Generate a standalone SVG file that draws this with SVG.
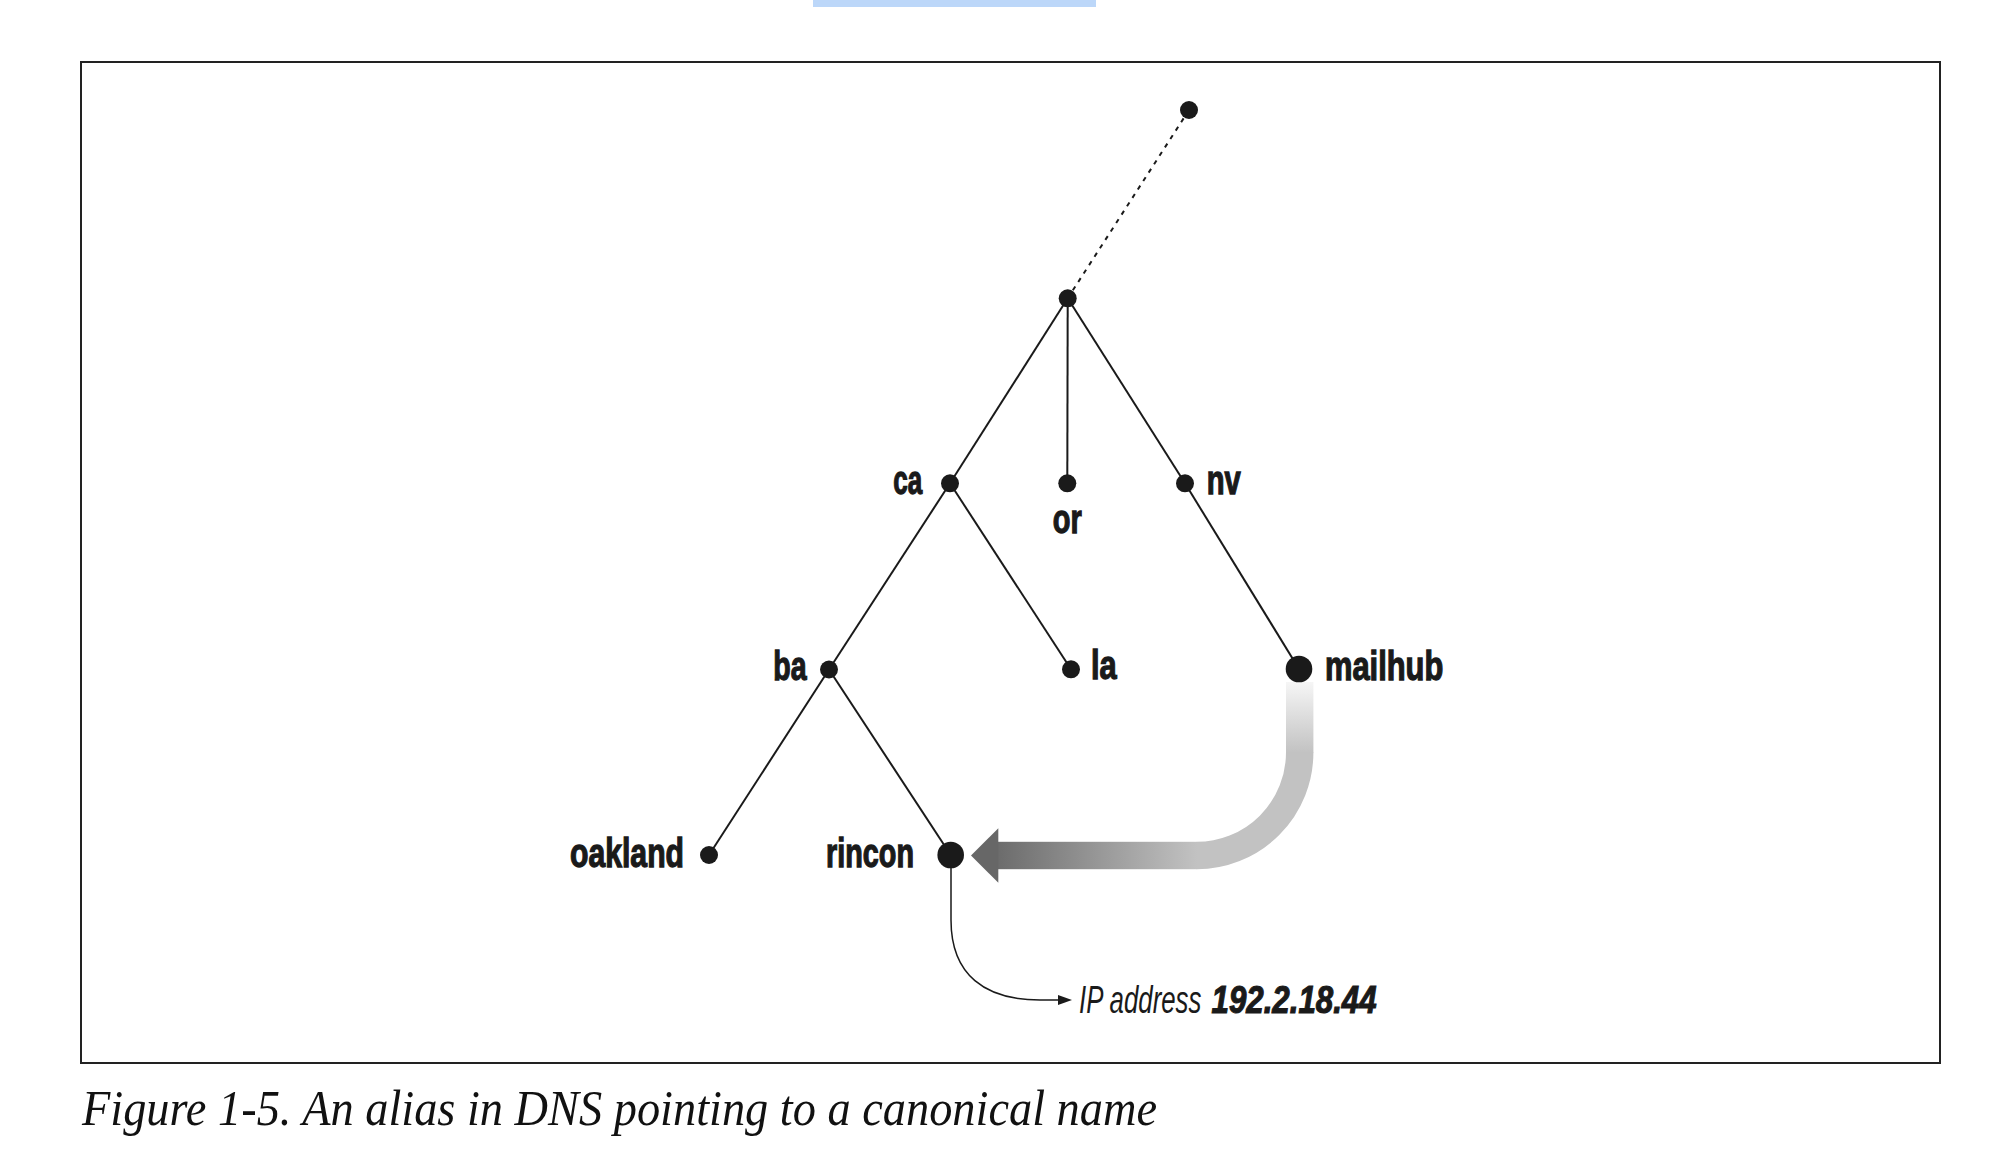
<svg xmlns="http://www.w3.org/2000/svg" width="2016" height="1156" viewBox="0 0 2016 1156">
  <style>
    .edge { stroke: #1a1a1a; stroke-width: 2; fill: none; }
    .dot { fill: #1a1a1a; }
    .lbl { font-family: "Liberation Sans", "DejaVu Sans", sans-serif; font-weight: bold; font-size: 40px; fill: #1a1a1a; stroke: #1a1a1a; stroke-width: 1.3px; }
    .ip { font-family: "Liberation Sans", "DejaVu Sans", sans-serif; font-style: italic; font-size: 38px; fill: #1a1a1a; }
    .ipnum { font-weight: bold; stroke: #1a1a1a; stroke-width: 1.2px; }
    .cap { font-family: "Liberation Serif", "DejaVu Serif", serif; font-style: italic; font-size: 50px; fill: #111; }
  </style>
  <defs>
    <linearGradient id="gVert" x1="0" y1="682" x2="0" y2="753" gradientUnits="userSpaceOnUse">
      <stop offset="0" stop-color="#f6f6f6"/>
      <stop offset="1" stop-color="#c2c2c2"/>
    </linearGradient>
    <linearGradient id="gHoriz" x1="1197" y1="0" x2="998" y2="0" gradientUnits="userSpaceOnUse">
      <stop offset="0" stop-color="#c2c2c2"/>
      <stop offset="1" stop-color="#6c6c6c"/>
    </linearGradient>
  </defs>

  <rect x="0" y="0" width="2016" height="1156" fill="#ffffff"/>
  <rect x="813" y="0" width="283" height="7" fill="#bcd7f9"/>
  <rect id="frame" x="81" y="62" width="1859" height="1001" fill="#ffffff" stroke="#222222" stroke-width="2"/>

  <g id="connectors">
    <line class="edge" x1="1189" y1="110" x2="1067.7" y2="298.3" stroke-width="3" stroke-dasharray="4.5 5.5"/>
    <line class="edge" x1="1067.7" y1="298.3" x2="950" y2="483.3"/>
    <line class="edge" x1="1067.7" y1="298.3" x2="1067.3" y2="483.3"/>
    <line class="edge" x1="1067.7" y1="298.3" x2="1185" y2="483.3"/>
    <line class="edge" x1="950" y1="483.3" x2="829" y2="669.5"/>
    <line class="edge" x1="950" y1="483.3" x2="1071" y2="669.3"/>
    <line class="edge" x1="1185" y1="483.3" x2="1299" y2="669"/>
    <line class="edge" x1="829" y1="669.5" x2="709" y2="855"/>
    <line class="edge" x1="829" y1="669.5" x2="950.7" y2="855"/>
    <g id="alias-arrow">
      <rect x="1286" y="682" width="27.4" height="71" fill="url(#gVert)"/>
      <path d="M1299.7,752.5 A103,103 0 0 1 1196.7,855.5" fill="none" stroke="#c2c2c2" stroke-width="27.4"/>
      <rect x="997.5" y="841.8" width="199.5" height="27.4" fill="url(#gHoriz)"/>
      <polygon points="971,855.5 998.3,828.3 998.3,882.7" fill="#676767"/>
    </g>
    <g id="ip-connector">
      <path d="M951,868 V920 C951,975 985,1000 1040,1000 H1060" fill="none" stroke="#1a1a1a" stroke-width="1.5"/>
      <polygon points="1058,995 1072,1000 1058,1005" fill="#1a1a1a"/>
    </g>
  </g>

  <g id="node-top"><circle class="dot" cx="1189" cy="110" r="9"/></g>
  <g id="node-us"><circle class="dot" cx="1067.7" cy="298.3" r="9"/></g>
  <g id="node-ca"><circle class="dot" cx="950" cy="483.3" r="9"/><text class="lbl" x="893.3" y="494.3" textLength="29" lengthAdjust="spacingAndGlyphs">ca</text></g>
  <g id="node-or"><circle class="dot" cx="1067.3" cy="483.3" r="9"/><text class="lbl" x="1052.7" y="533.3" textLength="29" lengthAdjust="spacingAndGlyphs">or</text></g>
  <g id="node-nv"><circle class="dot" cx="1185" cy="483.3" r="9"/><text class="lbl" x="1206.7" y="494.3" textLength="34" lengthAdjust="spacingAndGlyphs">nv</text></g>
  <g id="node-ba"><circle class="dot" cx="829" cy="669.5" r="9"/><text class="lbl" x="773.3" y="680" textLength="33.3" lengthAdjust="spacingAndGlyphs">ba</text></g>
  <g id="node-la"><circle class="dot" cx="1071" cy="669.3" r="9"/><text class="lbl" x="1091" y="679.3" textLength="25.7" lengthAdjust="spacingAndGlyphs">la</text></g>
  <g id="node-mailhub"><circle class="dot" cx="1299" cy="669" r="13.3"/><text class="lbl" x="1325" y="680" textLength="118.3" lengthAdjust="spacingAndGlyphs">mailhub</text></g>
  <g id="node-oakland"><circle class="dot" cx="709" cy="855" r="9"/><text class="lbl" x="570" y="866.7" textLength="114" lengthAdjust="spacingAndGlyphs">oakland</text></g>
  <g id="node-rincon"><circle class="dot" cx="950.7" cy="855" r="13.3"/><text class="lbl" x="826" y="866.7" textLength="88" lengthAdjust="spacingAndGlyphs">rincon</text></g>
  <g id="node-ip" transform="translate(1079,1013.3) scale(0.68,1)">
    <text class="ip" x="0" y="0"><tspan x="0" textLength="180" lengthAdjust="spacingAndGlyphs">IP address</tspan><tspan class="ipnum" x="195" textLength="242.6" lengthAdjust="spacingAndGlyphs">192.2.18.44</tspan></text>
  </g>

  <text class="cap" x="82" y="1125" textLength="1075" lengthAdjust="spacingAndGlyphs">Figure 1-5. An alias in DNS pointing to a canonical name</text>
</svg>
